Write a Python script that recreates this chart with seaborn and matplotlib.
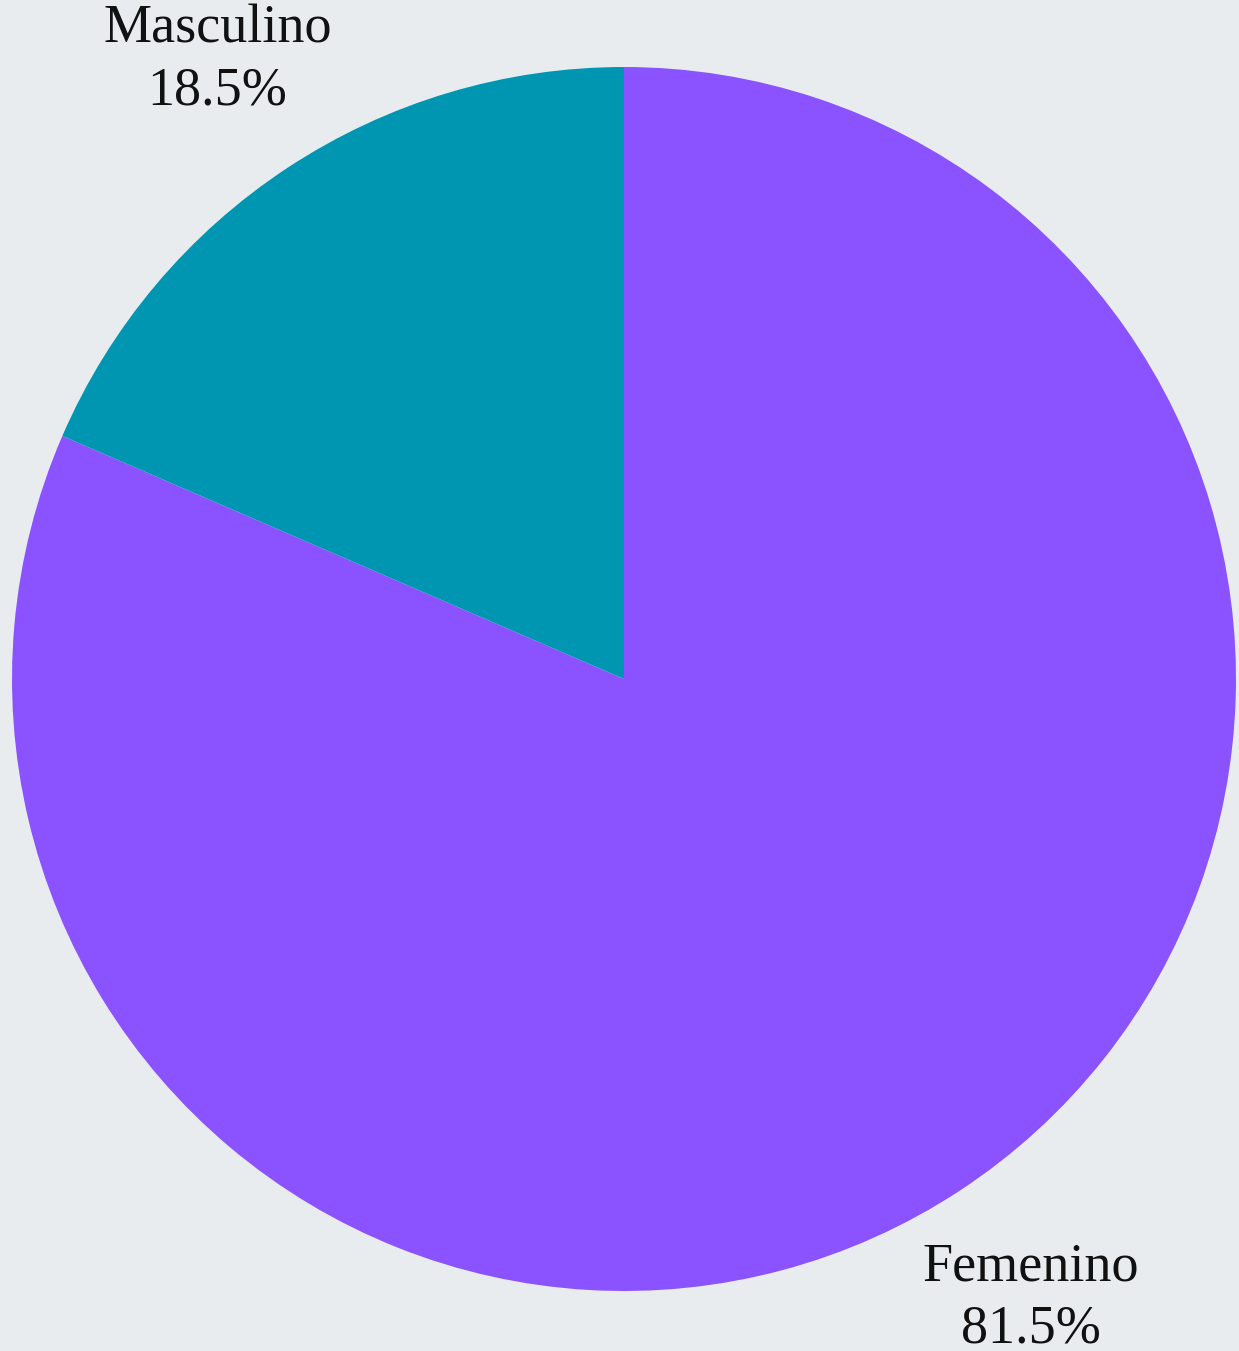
import matplotlib
matplotlib.use("Agg")
import matplotlib.pyplot as plt
import seaborn as sns

# data
labels = ["Femenino", "Masculino"]
values = [81.5, 18.5]
colors = ["#8b53ff", "#0096b2"]

sns.set_theme(style="white")
plt.rcParams['font.family'] = ['Liberation Serif', 'DejaVu Serif']

W, H = 1239, 1351
cx, cy, R = 624, 679, 612

fig = plt.figure(figsize=(W / 100, H / 100), dpi=100, facecolor="#e9ecee")
ax = fig.add_axes([0, 0, 1, 1])
ax.set_facecolor("#e9ecee")

texts = [f"{l}\n{v:.1f}%" for l, v in zip(labels, values)]
wedges, txts = ax.pie(values, labels=texts, colors=colors, startangle=90,
                      counterclock=False, labeldistance=1.21,
                      wedgeprops=dict(linewidth=0),
                      textprops=dict(fontsize=39, color="#111111",
                                     ha="center", va="center"))
for t in txts:
    t.set_horizontalalignment("center")
    t.set_linespacing(1.3)

ax.set_xlim(-cx / R, (W - cx) / R)
ax.set_ylim(-(H - cy) / R, cy / R)
ax.set_aspect("auto")
ax.axis("off")

fig.savefig("out.png", dpi=100, facecolor=fig.get_facecolor())
